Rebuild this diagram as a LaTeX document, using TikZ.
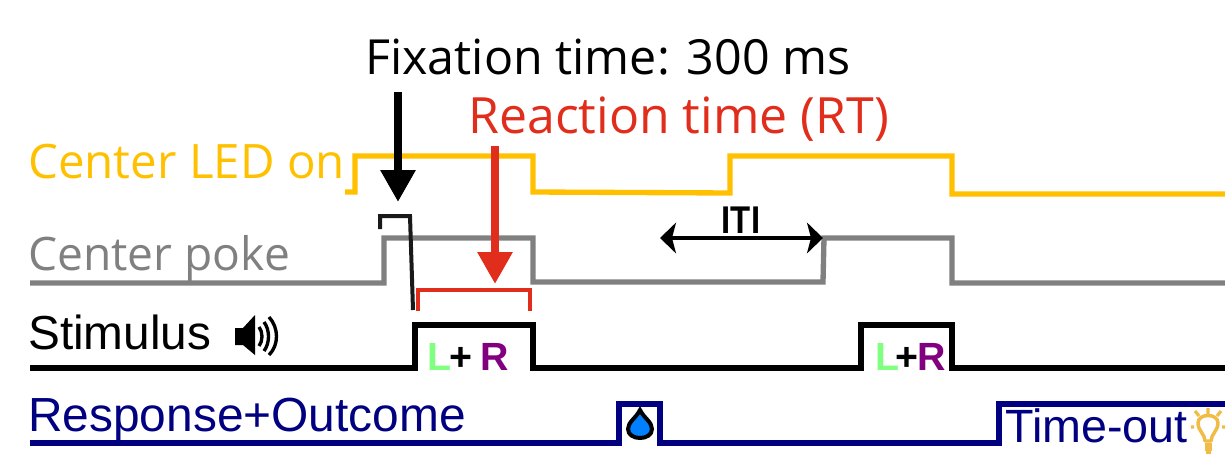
\documentclass[tikz,border=0pt]{standalone}
\usepackage{fontspec}
\setmainfont{Liberation Sans}
\newfontfamily\opensans{Open Sans}
\usetikzlibrary{arrows.meta}
\definecolor{ledyellow}{HTML}{FFC000}
\definecolor{pokegray}{HTML}{808080}
\definecolor{rtred}{HTML}{E12D1B}
\definecolor{navyblue}{HTML}{000080}
\definecolor{leftgreen}{HTML}{80FF80}
\definecolor{rightpurple}{HTML}{800080}
\definecolor{dropblue}{HTML}{0080FF}
\definecolor{bulbyellow}{HTML}{F0BC45}
\begin{document}
\begin{tikzpicture}
	[x=0.75pt, y=-0.75pt,
	trace/.style = {line width=4pt, miter limit=10},
	headtext/.style = {anchor=base west, inner sep=0pt, font=\opensans\fontsize{#1}{40}\selectfont},
	tracetext/.style = {anchor=base west, inner sep=0pt, font=\fontsize{#1}{40}\selectfont},
	sidetext/.style = {anchor=base, inner sep=0pt, font=\bfseries\fontsize{29.5}{34}\selectfont},
	bigarrow/.style = {line width=6pt, -{Triangle[length=24pt,width=25pt]}}]
	\useasboundingbox (0,0) rectangle (1225,468);
	\node[headtext=36.3] (fixation) at (365,74) {Fixation time: 300 ms};
	\node[headtext=37.5, text=rtred] (reaction) at (468,133) {Reaction time (RT)};
	\node[headtext=35.6, text=ledyellow] (led) at (28,178) {Center LED on};
	\node[headtext=34.6, text=pokegray] (poke) at (28,270) {Center poke};
	\node[tracetext=35.8] (stimulus) at (28,349) {Stimulus};
	\node[tracetext=35.9, text=navyblue] (response) at (28,431) {Response+Outcome};
	\node[tracetext=35, text=navyblue] (timeout) at (1005,442) {Time-out};
	\node[sidetext, text=leftgreen] (L1) at (440,370) {L};
	\node[sidetext] (P1) at (461,370) {+};
	\node[sidetext, text=rightpurple] (R1) at (495,370) {R};
	\node[sidetext, text=leftgreen] (L2) at (888,370) {L};
	\node[sidetext] (P2) at (907,370) {+};
	\node[sidetext, text=rightpurple] (R2) at (932,370) {R};
	\node[anchor=base, inner sep=0pt, xscale=.85, font=\bfseries\fontsize{29}{32}\selectfont] (iti) at (741,233) {ITI};
	\draw[trace, ledyellow] (345,192) -- (355,192) -- (355,156) -- (533,156) -- (533,192) -- (730,193) -- (730,156) -- (952,156) -- (952,194) -- (1225,194);
	\draw[trace, pokegray] (30,283) -- (384,283) -- (384,238) -- (533,238) -- (533,282) -- (823,282) -- (824,238) -- (952,238) -- (952,283) -- (1225,283);
	\draw[trace, black, line width=4.3pt] (30,368) -- (415,368) -- (415,325) -- (533,325) -- (533,368) -- (861,368) -- (861,325) -- (952,325) -- (952,368) -- (1225,368);
	\draw[trace, navyblue] (30,443) -- (619,443) -- (619,404) -- (660,404) -- (660,443) -- (999,443) -- (999,404) -- (1225,404);
	\coordinate (fixstart) at (398,92);
	\coordinate (fixtip) at (398,202);
	\coordinate (rtstart) at (495,146);
	\coordinate (rttip) at (495,284);
	\coordinate (itileft) at (660,238);
	\coordinate (itiright) at (823,238);
	\draw[bigarrow, black] (fixstart) -- (fixtip);
	\draw[bigarrow, rtred] (rtstart) -- (rttip);
	\draw[line width=2.6pt, {Stealth[length=12pt,width=23pt,inset=3pt]}-{Stealth[length=12pt,width=23pt,inset=3pt]}] (itileft) -- (itiright);
	\draw[line width=3pt, black!90] (380,229) -- (380,216) -- (410,216) -- (413,310);
	\draw[line width=2.8pt, rtred] (418,311) -- (418,290) -- (530,290) -- (530,311);
	\fill (235,328) -- (243,328) -- (255,315) -- (255,355) -- (243,345) -- (235,345) -- cycle;
	\draw[line width=2.5pt] (259,327) .. controls (263,332) and (263,341) .. (259,346);
	\draw[line width=2.5pt] (264,322) .. controls (270,330) and (270,343) .. (264,351);
	\draw[line width=2.5pt] (269,317) .. controls (279,328) and (279,345) .. (269,355);
	\draw[line width=3pt, fill=dropblue] (640,410) .. controls (644,418) and (652,422) .. (652,429) .. controls (652,441) and (628,441) .. (628,429) .. controls (628,422) and (636,418) .. (640,410) -- cycle;
	\draw[line width=2.6pt, bulbyellow, line join=round] (1205,441) .. controls (1205,434) and (1198,431) .. (1198,423) .. controls (1198,413) and (1218,413) .. (1218,423) .. controls (1218,431) and (1211,434) .. (1211,441) -- cycle;
	\draw[line width=2.4pt, bulbyellow] (1205,445) -- (1212,445) (1205,449) -- (1212,449) (1206,452) -- (1211,452);
	\draw[line width=2.4pt, bulbyellow] (1208,408) -- (1208,414) (1195,411) -- (1199,416) (1221,411) -- (1217,416) (1191,427) -- (1194,427) (1222,427) -- (1225,427);
\end{tikzpicture}
\end{document}
